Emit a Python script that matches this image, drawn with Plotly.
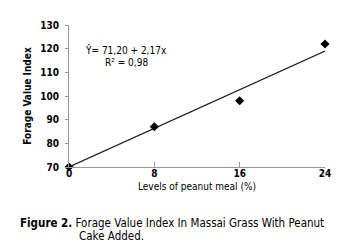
import plotly.graph_objects as go

levels = [0, 8, 16, 24]
fvi = [70, 87, 98, 122]
trend_x = [0, 24]
trend_y = [70, 119]
x_ticks = [0, 8, 16, 24]
y_ticks = [70, 80, 90, 100, 110, 120, 130]

FONT = "DejaVu Sans Condensed"
fig = go.Figure()
fig.add_trace(go.Scatter(x=trend_x, y=trend_y, mode="lines",
                         line=dict(color="#231f20", width=1.2), showlegend=False))
fig.add_trace(go.Scatter(x=levels, y=fvi, mode="markers",
                         marker=dict(symbol="diamond", size=7, color="black"),
                         showlegend=False, cliponaxis=False))

fig.update_layout(
    width=340, height=242,
    margin=dict(l=61, r=23, t=11, b=83),
    plot_bgcolor="white", paper_bgcolor="white",
    font=dict(family=FONT, size=10, color="black"),
    xaxis=dict(range=[0, 24], tickvals=x_ticks, ticks="inside", ticklen=5,
               tickcolor="#999999", showline=True, linecolor="#999999",
               showgrid=False, zeroline=False, ticklabelstandoff=-3,
               tickfont=dict(family=FONT, size=10, weight="bold"),
               title=dict(text="Levels of peanut meal (%)", font=dict(family=FONT, size=10), standoff=4)),
    yaxis=dict(range=[70, 130], tickvals=y_ticks, ticks="outside", ticklen=3,
               tickcolor="#999999", showline=True, linecolor="#999999",
               showgrid=False, zeroline=False, ticklabelstandoff=4,
               tickfont=dict(family=FONT, size=10, weight="bold"),
               title=dict(text="Forage Value Index", font=dict(family=FONT, size=10, weight="bold"), standoff=6)),
)

fig.add_annotation(xref="paper", yref="paper", x=(118-61)/256, y=(159-37)/148,
                   xanchor="center", yanchor="middle",
                   text="Ŷ= 71,20 + 2,17x", showarrow=False, font=dict(family=FONT, size=10))
fig.add_annotation(xref="paper", yref="paper", x=(118-61)/256, y=(159-50)/148,
                   xanchor="center", yanchor="middle",
                   text="R² = 0,98", showarrow=False, font=dict(family=FONT, size=10))
fig.add_annotation(xref="paper", yref="paper", x=(11-61)/256, y=(159-217)/148,
                   xanchor="left", yanchor="middle", borderpad=0,
                   text="<b>Figure 2.</b> Forage Value Index In Massai Grass With Peanut",
                   showarrow=False, font=dict(family=FONT, size=11.5))
fig.add_annotation(xref="paper", yref="paper", x=(70-61)/256, y=(159-231)/148,
                   xanchor="left", yanchor="middle", borderpad=0, text="Cake Added.",
                   showarrow=False, font=dict(family=FONT, size=11.5))

fig.write_html("out.html")
